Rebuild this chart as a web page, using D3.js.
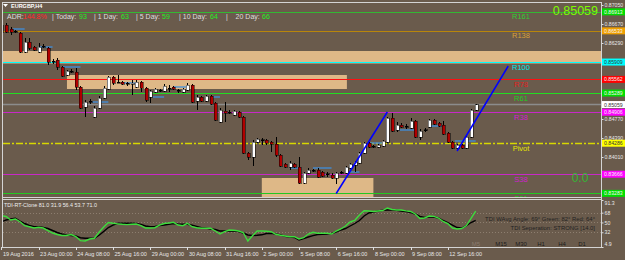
<!DOCTYPE html>
<html>
<head>
<meta charset="utf-8">
<script src="https://cdn.jsdelivr.net/npm/d3@7"></script>
<style>
  body { margin: 0; background: #6a5b4c; }
  svg { display: block; font-family: "Liberation Sans", Arial, sans-serif; }
</style>
</head>
<body>
<div id="chart"></div>
<script>
// ---- data ----
// [open, high, low, close] per H4 bar, 19 Aug 20:00 .. 13 Sep 16:00
const candles = [
  [0.8651,0.8667,0.8649,0.8665],[0.8665,0.8669,0.8649,0.8651],[0.8657,0.8661,0.8645,0.8651],[0.8653,0.8655,0.8649,0.8652],
  [0.8649,0.8651,0.8609,0.8611],[0.8611,0.8639,0.8609,0.8631],[0.8631,0.8639,0.8615,0.8619],[0.8621,0.8623,0.8614,0.8615],
  [0.8611,0.8629,0.8610,0.8621],[0.8622,0.8627,0.8619,0.8623],[0.8619,0.8621,0.8585,0.8591],[0.8593,0.8597,0.8587,0.8592],
  [0.8595,0.8599,0.8575,0.8581],[0.8581,0.8583,0.8561,0.8563],[0.8565,0.8575,0.8563,0.8573],[0.8573,0.8577,0.8569,0.8572],
  [0.8571,0.8579,0.8535,0.8541],[0.8541,0.8543,0.8497,0.8499],[0.8501,0.8515,0.8481,0.8511],[0.8512,0.8517,0.8507,0.8513],
  [0.8481,0.8503,0.8479,0.8499],[0.8499,0.8523,0.8498,0.8519],[0.8519,0.8543,0.8517,0.8539],[0.8537,0.8563,0.8535,0.8561],
  [0.8561,0.8563,0.8545,0.8549],[0.8551,0.8565,0.8549,0.8550],[0.8551,0.8553,0.8545,0.8547],[0.8548,0.8551,0.8543,0.8549],
  [0.8547,0.8555,0.8525,0.8549],[0.8541,0.8555,0.8539,0.8551],[0.8551,0.8553,0.8531,0.8539],[0.8539,0.8541,0.8511,0.8515],
  [0.8521,0.8535,0.8509,0.8533],[0.8531,0.8539,0.8529,0.8537],[0.8535,0.8537,0.8531,0.8534],[0.8533,0.8547,0.8531,0.8543],
  [0.8538,0.8545,0.8531,0.8539],[0.8541,0.8543,0.8535,0.8537],[0.8534,0.8537,0.8529,0.8535],[0.8531,0.8539,0.8529,0.8537],
  [0.8535,0.8549,0.8533,0.8545],[0.8545,0.8547,0.8509,0.8511],[0.8513,0.8525,0.8495,0.8521],[0.8521,0.8523,0.8511,0.8513],
  [0.8513,0.8525,0.8511,0.8523],[0.8523,0.8525,0.8505,0.8507],[0.8509,0.8511,0.8473,0.8475],[0.8471,0.8499,0.8469,0.8495],
  [0.8493,0.8511,0.8471,0.8489],[0.8491,0.8495,0.8487,0.8490],[0.8485,0.8495,0.8483,0.8493],[0.8491,0.8493,0.8479,0.8481],
  [0.8481,0.8483,0.8407,0.8409],[0.8409,0.8411,0.8395,0.8401],[0.8401,0.8435,0.8383,0.8431],[0.8431,0.8439,0.8429,0.8437],
  [0.8435,0.8439,0.8425,0.8436],[0.8435,0.8437,0.8425,0.8429],[0.8431,0.8433,0.8411,0.8427],[0.8427,0.8441,0.8401,0.8405],
  [0.8405,0.8407,0.8381,0.8383],[0.8387,0.8389,0.8379,0.8381],[0.8381,0.8393,0.8375,0.8389],[0.8387,0.8389,0.8379,0.8381],
  [0.8381,0.8401,0.8348,0.8349],[0.8349,0.8371,0.8347,0.8369],[0.8369,0.8379,0.8367,0.8375],[0.8374,0.8377,0.8371,0.8375],
  [0.8375,0.8379,0.8359,0.8361],[0.8371,0.8373,0.8361,0.8363],[0.8368,0.8371,0.8361,0.8367],[0.8365,0.8369,0.8357,0.8359],
  [0.8359,0.8371,0.8347,0.8369],[0.8370,0.8373,0.8367,0.8371],[0.8369,0.8383,0.8367,0.8381],[0.8379,0.8389,0.8377,0.8387],
  [0.8385,0.8393,0.8371,0.8391],[0.8389,0.8411,0.8387,0.8409],[0.8409,0.8431,0.8407,0.8429],[0.8429,0.8431,0.8419,0.8421],
  [0.8422,0.8425,0.8419,0.8423],[0.8421,0.8427,0.8419,0.8425],[0.8423,0.8435,0.8421,0.8433],[0.8431,0.8481,0.8429,0.8479],
  [0.8479,0.8489,0.8451,0.8453],[0.8455,0.8471,0.8451,0.8465],[0.8465,0.8469,0.8459,0.8461],[0.8462,0.8467,0.8457,0.8463],
  [0.8459,0.8479,0.8457,0.8473],[0.8473,0.8475,0.8439,0.8441],[0.8441,0.8457,0.8435,0.8453],[0.8455,0.8459,0.8451,0.8456],
  [0.8461,0.8477,0.8459,0.8475],[0.8475,0.8477,0.8465,0.8467],[0.8469,0.8471,0.8461,0.8463],[0.8465,0.8473,0.8445,0.8447],
  [0.8449,0.8451,0.8429,0.8431],[0.8431,0.8433,0.8417,0.8419],[0.8419,0.8427,0.8415,0.8425],[0.8425,0.8427,0.8417,0.8419],
  [0.8419,0.8443,0.8417,0.8441],[0.8441,0.8497,0.8439,0.8495],[0.8495,0.8507,0.8493,0.85059]
];

// TDI sub window, one value per bar
const tdiGreen = [
  62.4,61.0,54.5,56.4,51.4,44.1,42.2,39.8,41.1,39.8,
  35.2,30.6,27.9,26.0,26.0,27.9,24.2,16.5,15.9,19.6,
  20.9,31.9,41.7,49.9,48.5,47.5,46.6,46.0,46.6,47.2,
  44.1,39.8,39.8,40.4,45.3,48.1,49.0,50.3,45.3,44.1,
  48.5,42.2,40.4,39.3,39.3,39.3,34.3,28.8,33.0,36.2,
  35.6,34.3,31.6,15.9,25.7,34.3,34.3,33.8,33.0,28.3,
  26.4,25.1,23.8,23.8,19.6,22.0,28.8,31.9,30.1,30.1,
  30.1,28.8,34.3,38.0,43.5,50.9,54.0,63.7,71.6,71.1,
  70.2,71.1,72.0,76.6,73.8,72.9,72.9,71.4,70.2,65.6,
  57.3,58.2,61.9,61.3,58.2,51.8,48.1,39.8,38.0,38.9,
  44.4,57.3,71.0
];
const tdiBlack = [
  51.4,54.5,56.4,57.7,52.7,48.1,44.4,42.2,42.2,40.7,
  38.9,35.2,31.6,28.8,27.0,26.0,25.1,22.0,21.1,20.9,
  20.9,26.4,33.4,40.7,45.3,48.5,48.5,48.5,48.5,48.1,
  46.6,43.5,42.2,42.6,44.1,45.3,46.6,48.1,47.2,46.6,
  46.6,44.8,42.6,40.4,39.5,38.0,37.1,34.3,34.3,34.3,
  34.3,33.4,30.6,27.0,26.0,26.4,27.3,29.7,30.1,28.8,
  27.0,24.6,23.3,22.4,17.8,20.5,23.3,25.7,27.9,28.4,
  28.8,29.7,32.5,36.2,38.9,43.5,48.1,53.6,61.9,67.4,
  69.2,71.1,72.4,72.9,72.9,72.4,71.1,70.2,68.3,65.6,
  61.0,59.1,60.0,60.0,58.2,53.6,49.9,45.3,40.7,39.8,
  44.1,49.9,53.7
];
const tdiTicks = [91.3, 68, 50, 32, 4.9];

const timeLabels = ["19 Aug 2016","23 Aug 00:00","24 Aug 08:00","25 Aug 16:00","29 Aug 00:00","30 Aug 08:00",
  "31 Aug 16:00","2 Sep 00:00","5 Sep 08:00","6 Sep 16:00","8 Sep 00:00","9 Sep 08:00","12 Sep 16:00"];
const timeLabelBars = [0,8,16,24,32,40,48,56,64,72,80,88,96];

const priceTicks = [0.87050,0.86670,0.86290,0.85910,0.85530,0.85150,0.84770,0.84390,0.84010,0.83630];

// pivot / fibo levels
const levelNames  = ["R161","R138","R100","R78","R61","R38","Pivot","S38","S61"];
const levelPrices = [0.86913,0.86533,0.85909,0.85562,0.85289,0.84906,0.84286,0.83666,0.83283];
const bidPrice = 0.85059;

// supply / demand zones: [fromBar, toBar, top, bottom]
const zones = [[-2, 135, 0.8613, 0.8588], [14.1, 74.3, 0.8565, 0.8537], [56, 80, 0.8359, 0.8300]];
// short blue fractal lines: [fromBar, toBar, price]
const fractals = [[2.5,5,0.8657],[8,11,0.8621],[13,17,0.8581],[19.5,23,0.8511],[26,29,0.8549],[32.5,35,0.8521],
  [37,40,0.8541],[45.5,47,0.8521],[62,64.5,0.8379],[67,71,0.8379],[75,77,0.8371],[79,82,0.8429],
  [85.5,89,0.8455],[92,95,0.8463],[97.5,102,0.8433]];
// blue trend lines: [bar1, price1, bar2, price2]
const trendLines = [[72, 0.8328, 83, 0.8491], [98, 0.8413, 109, 0.8583]];

const adrLabels = ["ADR:", "| Today:", "| 1 Day:", "| 5 Day:", "| 10 Day:", "|    20 Day:"];
const adrValues = ["144.8%", "93", "63", "59", "64", "66"];
const tdiHeader = "TDI-RT-Clone 81.0 31.9 56.4 53.7 71.0";
const tdiInfo = ["TDI WAvg Angle: 69°  Green: 82°  Red: 64°", "TDI Seperation: STRONG [14.0]"];
const timeframes = ["M5","M15","M30","H1","H4","D1"];

// ---- styles ----
const levelColors = {R161:"#33b833", R138:"#b8860b", R100:"#00ffff", R78:"#ff1010", R61:"#22dd22",
  R38:"#c828c8", Pivot:"#d8d800", S38:"#c828c8", S61:"#22c822"};
const levelTextColors = {R161:"#33cc33", R138:"#d9a038", R100:"#00e8e8", R78:"#e02020", R61:"#22cc22",
  R38:"#d020d0", Pivot:"#e6e600", S38:"#d020d0", S61:"#22cc22"};
const levelBoxColors = {R161:"#00dd00", R138:"#f0a000", R100:"#00ffff", R78:"#ff0000", R61:"#00dd00",
  R38:"#ff00ff", Pivot:"#ffff00", S38:"#ff00ff", S61:"#00dd00"};
const darkText = {R100:true, Pivot:true};

const W = 625, H = 260;
const plot = {left: 3, right: 601, top: 3, bottom: 197};
const sub = {top: 200, bottom: 247};

const svg = d3.select("#chart").append("svg").attr("width", W).attr("height", H);
svg.append("rect").attr("width", W).attr("height", H).attr("fill", "#6a5b4c");

const x = d3.scaleLinear().domain([0, candles.length - 1]).range([1.4, 475.7]);
const y = d3.scaleLinear().domain([0.8321, 0.8709]).range([plot.bottom, plot.top]);
const ty = d3.scaleLinear().domain([4.9, 91.3]).range([sub.bottom, sub.top]);

svg.append("clipPath").attr("id", "clipMain").append("rect")
  .attr("x", plot.left).attr("y", plot.top).attr("width", plot.right - plot.left).attr("height", plot.bottom - plot.top);
svg.append("clipPath").attr("id", "clipSub").append("rect")
  .attr("x", plot.left).attr("y", sub.top).attr("width", plot.right - plot.left).attr("height", sub.bottom - sub.top);

const main = svg.append("g").attr("clip-path", "url(#clipMain)");

// zones
main.selectAll("rect.zone").data(zones).join("rect")
  .attr("x", d => x(d[0])).attr("width", d => x(d[1]) - x(d[0]))
  .attr("y", d => y(d[2])).attr("height", d => y(d[3]) - y(d[2]))
  .attr("fill", "#deb887");

// level lines
main.selectAll("line.level").data(levelPrices).join("line")
  .attr("x1", plot.left).attr("x2", plot.right)
  .attr("y1", d => Math.round(y(d)) + 0.5).attr("y2", d => Math.round(y(d)) + 0.5)
  .attr("stroke", (d, i) => levelColors[levelNames[i]])
  .attr("stroke-width", (d, i) => levelNames[i] === "Pivot" ? 1.3 : 1)
  .attr("stroke-dasharray", (d, i) => levelNames[i] === "Pivot" ? "7,2,2,2" : null);

// bid line
main.append("line").attr("x1", plot.left).attr("x2", plot.right)
  .attr("y1", y(bidPrice)).attr("y2", y(bidPrice))
  .attr("stroke", "#8c8c8c").attr("stroke-width", 1.6);

// fractal lines
main.selectAll("line.frac").data(fractals).join("line")
  .attr("x1", d => x(d[0])).attr("x2", d => x(d[1]))
  .attr("y1", d => y(d[2])).attr("y2", d => y(d[2]))
  .attr("stroke", "#3f8ede").attr("stroke-width", 1.3);

// candles
const cg = main.append("g").attr("shape-rendering", "crispEdges");
cg.selectAll("line.wick").data(candles).join("line")
  .attr("x1", (d, i) => Math.round(x(i)) + 0.5).attr("x2", (d, i) => Math.round(x(i)) + 0.5)
  .attr("y1", d => y(d[1])).attr("y2", d => y(d[2]))
  .attr("stroke", "#000");
cg.selectAll("rect.body").data(candles).join("rect")
  .attr("x", (d, i) => Math.round(x(i)) - 1)
  .attr("width", 3)
  .attr("y", d => y(Math.max(d[0], d[3])))
  .attr("height", d => Math.max(1, Math.abs(y(d[0]) - y(d[3]))))
  .attr("fill", d => Math.abs(d[0] - d[3]) < 0.00015 ? "#000" : (d[3] > d[0] ? "#ffffff" : "#b00000"))
  .attr("stroke", "#000").attr("stroke-width", 0.5);

// trend lines
main.selectAll("line.trend").data(trendLines).join("line")
  .attr("x1", d => x(d[0])).attr("y1", d => y(d[1]))
  .attr("x2", d => x(d[2])).attr("y2", d => y(d[3]))
  .attr("stroke", "#0000ff").attr("stroke-width", 1.5);

// level names
main.selectAll("text.lvl").data(levelPrices).join("text")
  .attr("x", 521).attr("y", d => y(d) + 7.5)
  .attr("text-anchor", "middle").attr("font-size", 7.5)
  .attr("fill", (d, i) => levelTextColors[levelNames[i]])
  .text((d, i) => levelNames[i]);

main.append("text").attr("x", 598).attr("y", 15).attr("text-anchor", "end")
  .attr("font-size", 12.5).attr("fill", "#7cfc00").text(d3.format(".5f")(bidPrice));
main.append("text").attr("x", 580).attr("y", 182).attr("text-anchor", "middle")
  .attr("font-size", 12).attr("fill", "#33b833").text("0.0");

// header
svg.append("path").attr("d", "M3,4 L8,4 L5.5,7 Z").attr("fill", "#fff");
svg.append("text").attr("x", 11).attr("y", 8).attr("font-size", 5.5).attr("font-weight", "bold")
  .attr("fill", "#fff").text("EURGBP,H4");
const adrLabelX = [7, 52, 94, 136, 179, 226];
const adrValueX = [23, 79, 121, 162, 210, 262];
svg.selectAll("text.adrl").data(adrLabels).join("text")
  .attr("x", (d, i) => adrLabelX[i]).attr("y", 18.5).attr("font-size", 7)
  .attr("fill", "#dedede").attr("xml:space", "preserve").text(d => d);
svg.selectAll("text.adrv").data(adrValues).join("text")
  .attr("x", (d, i) => adrValueX[i]).attr("y", 18.5).attr("font-size", 7)
  .attr("fill", (d, i) => i === 0 ? "#ff2a2a" : "#22ee22").text(d => d);

// coloured level price boxes (plain ticks hidden where a box covers them)
const boxData = levelPrices.map((p, i) => ({name: levelNames[i], price: p})).concat([{name: "bid", price: bidPrice}]);
const shownTicks = priceTicks.filter(t => boxData.every(b => Math.abs(y(t) - y(b.price)) > 5));

// price axis
const pAxis = svg.append("g").attr("transform", `translate(${plot.right + 0.5},0)`)
  .call(d3.axisRight(y).tickValues(shownTicks).tickFormat(d3.format(".5f")).tickSize(2).tickPadding(1));
pAxis.select(".domain").remove();
pAxis.selectAll("line").attr("stroke", "#ddd");
pAxis.selectAll("text").attr("fill", "#e8e8e8").attr("font-size", 5.2).attr("font-family", "Liberation Sans, Arial");

const boxes = svg.append("g");
boxes.selectAll("rect").data(boxData).join("rect")
  .attr("x", plot.right + 1).attr("width", W - plot.right - 1)
  .attr("y", d => y(d.price) - 3.5).attr("height", 7)
  .attr("fill", d => d.name === "bid" ? "#ffffff" : levelBoxColors[d.name]);
boxes.selectAll("text").data(boxData).join("text")
  .attr("x", plot.right + 3).attr("y", d => y(d.price) + 2)
  .attr("font-size", 5.2)
  .attr("fill", d => (d.name === "bid" || darkText[d.name]) ? "#333" : "#f4f4f4")
  .text(d => d3.format(".5f")(d.price));

// ---- TDI sub window ----
const sg = svg.append("g").attr("clip-path", "url(#clipSub)");
sg.selectAll("line.grid").data(tdiTicks.slice(1, 4)).join("line")
  .attr("x1", plot.left).attr("x2", plot.right)
  .attr("y1", d => Math.round(ty(d)) + 0.5).attr("y2", d => Math.round(ty(d)) + 0.5)
  .attr("stroke", "#8d7e6f").attr("stroke-dasharray", "1,2");
const tline = d3.line().x((d, i) => x(i)).y(d => ty(d));
sg.append("path").datum(tdiBlack).attr("d", tline)
  .attr("fill", "none").attr("stroke", "#000").attr("stroke-width", 1.4);
sg.append("path").datum(tdiGreen).attr("d", tline)
  .attr("fill", "none").attr("stroke", "#3ddc3d").attr("stroke-width", 1.4);

svg.append("text").attr("x", 4).attr("y", 206.5).attr("font-size", 5.4).attr("fill", "#eee").text(tdiHeader);
svg.selectAll("text.info").data(tdiInfo).join("text")
  .attr("x", 595).attr("y", (d, i) => 221 + i * 8.7).attr("text-anchor", "end")
  .attr("font-size", 5.9).attr("fill", "#222").text(d => d);
const tfX = [476, 501, 521, 541, 562, 582];
svg.selectAll("text.tf").data(timeframes).join("text")
  .attr("x", (d, i) => tfX[i]).attr("y", 246).attr("text-anchor", "middle")
  .attr("font-size", 6).attr("fill", (d, i) => i === 0 ? "#8a7c6e" : "#1c1c1c").text(d => d);

const tAxis = svg.append("g").attr("transform", `translate(${plot.right + 0.5},0)`)
  .call(d3.axisRight(ty).tickValues(tdiTicks).tickFormat(d => Number.isInteger(d) ? d : d.toFixed(1)).tickSize(2).tickPadding(1));
tAxis.select(".domain").remove();
tAxis.selectAll("line").attr("stroke", "#ddd");
tAxis.selectAll("text").attr("fill", "#e8e8e8").attr("font-size", 5.2).attr("font-family", "Liberation Sans, Arial")
  .attr("dy", d => d === 91.3 ? "0.9em" : d === 4.9 ? "-0.3em" : "0.32em");

// ---- frames ----
const fr = svg.append("g").attr("stroke", "#d4d4d4").attr("stroke-width", 1).attr("shape-rendering", "crispEdges");
fr.append("line").attr("x1", 2.5).attr("x2", 2.5).attr("y1", 2).attr("y2", sub.bottom + 1);
fr.append("line").attr("x1", 2).attr("x2", plot.right).attr("y1", 2.5).attr("y2", 2.5);
fr.append("line").attr("x1", plot.right + 0.5).attr("x2", plot.right + 0.5).attr("y1", 2).attr("y2", sub.bottom + 1);
fr.append("line").attr("x1", 2).attr("x2", plot.right).attr("y1", plot.bottom + 0.5).attr("y2", plot.bottom + 0.5);
fr.append("line").attr("x1", 2).attr("x2", plot.right).attr("y1", sub.top - 0.5).attr("y2", sub.top - 0.5);
fr.append("line").attr("x1", 2).attr("x2", plot.right + 1).attr("y1", sub.bottom + 0.5).attr("y2", sub.bottom + 0.5);

// ---- time axis ----
const tg = svg.append("g");
tg.selectAll("line").data(timeLabelBars).join("line")
  .attr("x1", d => Math.round(x(d)) + 0.5).attr("x2", d => Math.round(x(d)) + 0.5)
  .attr("y1", sub.bottom).attr("y2", sub.bottom + 3)
  .attr("stroke", "#ddd").attr("shape-rendering", "crispEdges");
tg.selectAll("text").data(timeLabelBars).join("text")
  .attr("x", d => x(d) + 1.5).attr("y", 255.5)
  .attr("font-size", 5.5).attr("fill", "#e8e8e8")
  .text((d, i) => timeLabels[i]);
</script>
</body>
</html>
